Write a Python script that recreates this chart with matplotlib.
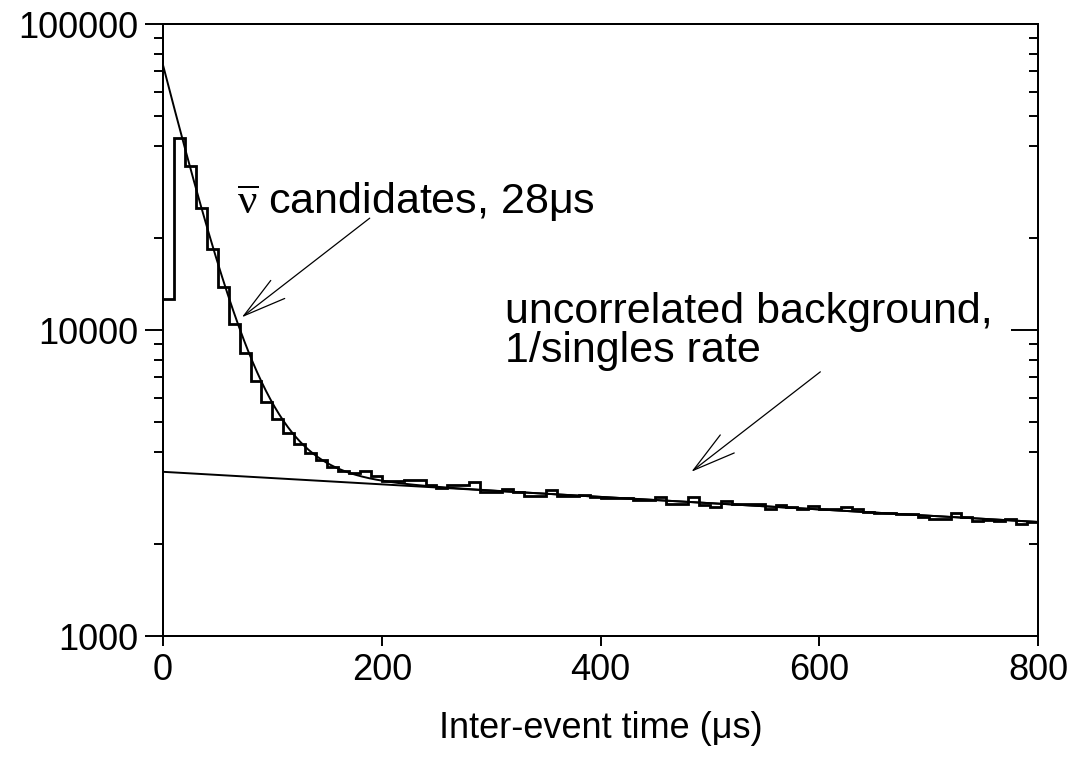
import numpy as np
import matplotlib.pyplot as plt
from matplotlib.patches import ArrowStyle
from matplotlib.ticker import FixedLocator, LogLocator, NullFormatter, FuncFormatter

plt.rcParams['font.family'] = ['Liberation Sans', 'DejaVu Sans']
plt.rcParams['mathtext.fontset'] = 'custom'
plt.rcParams['mathtext.rm'] = 'Liberation Serif'
plt.rcParams['mathtext.it'] = 'Liberation Serif:italic'

# histogram of inter-event times, 10 us bins from 0 to 800 us
bin_width = 10
counts = [12600, 42400, 34400, 25000, 18400, 13800, 10500, 8400, 6800, 5830,
          5100, 4600, 4240, 3970, 3760, 3570, 3470, 3420, 3470, 3330,
          3210, 3210, 3230, 3230, 3120, 3050, 3120, 3120, 3190, 2960,
          2960, 3020, 2960, 2870, 2870, 3000, 2870, 2870, 2900, 2850,
          2830, 2830, 2830, 2780, 2780, 2850, 2710, 2710, 2840, 2680,
          2630, 2760, 2690, 2690, 2690, 2610, 2680, 2630, 2600, 2650,
          2600, 2600, 2630, 2600, 2550, 2520, 2520, 2500, 2500, 2450,
          2420, 2410, 2520, 2450, 2380, 2390, 2380, 2410, 2320, 2360]
edges = np.arange(len(counts) + 1) * bin_width

# fit curve as drawn: candidates exponential + uncorrelated background
sig_amp, sig_tau = 70000, 30.0
bkg_amp, bkg_tau = 3440, 2120.0

x_ticks = [0, 200, 400, 600, 800]
y_ticks = [1000, 10000, 100000]

t = np.linspace(0, 800, 800)
bkg = bkg_amp * np.exp(-t / bkg_tau)
total = sig_amp * np.exp(-t / sig_tau) + bkg

fig = plt.figure(figsize=(10.88, 7.77), dpi=100)
ax = fig.add_axes([163/1088, 1 - 636/777, 875/1088, 612/777])

ax.stairs(counts, edges, baseline=None, color='black', lw=2.0)
ax.plot(t, total, color='black', lw=1.4)
ax.plot(t, bkg, color='black', lw=1.4)

ax.set_yscale('log')
ax.set_xlim(0, 800)
ax.set_ylim(1000, 100000)
ax.xaxis.set_major_locator(FixedLocator(x_ticks))
ax.yaxis.set_major_locator(FixedLocator(y_ticks))
ax.yaxis.set_major_formatter(FuncFormatter(lambda v, p: '%d' % v))
ax.yaxis.set_minor_locator(LogLocator(base=10, subs=[2, 4, 5, 6, 7, 8, 9]))
ax.yaxis.set_minor_formatter(NullFormatter())

for s in ax.spines.values():
    s.set_linewidth(1.4)
ax.tick_params(axis='both', which='both', labelsize=26, width=1.4, color='black')
ax.tick_params(axis='x', which='major', direction='out', length=7, pad=5)
ax.tick_params(axis='y', which='major', direction='out', length=13, pad=5)
ax.tick_params(axis='y', which='minor', direction='out', length=6.5)

# right axis ticks point inward
ax2 = ax.twinx()
ax2.set_yscale('log')
ax2.set_ylim(ax.get_ylim())
ax2.yaxis.set_major_locator(FixedLocator(y_ticks))
ax2.yaxis.set_minor_locator(LogLocator(base=10, subs=[2, 4, 5, 6, 7, 8, 9]))
ax2.yaxis.set_major_formatter(NullFormatter())
ax2.yaxis.set_minor_formatter(NullFormatter())
ax2.tick_params(axis='y', which='both', direction='in', width=1.4, labelright=False)
ax2.tick_params(axis='y', which='major', length=19.5)
ax2.tick_params(axis='y', which='minor', length=6.5)
for s in ax2.spines.values():
    s.set_linewidth(1.4)

ax.set_xlabel('Inter-event time (μs)', fontsize=26, labelpad=17)

head = ArrowStyle('->', head_length=3.1, head_width=0.82)
ax.text(67.7, 24170, r'$\overline{\mathrm{\nu}}$ candidates, 28μs', fontsize=31,
        ha='left', va='baseline')
ax.annotate('', xy=(72, 11000), xytext=(189, 23200),
            arrowprops=dict(arrowstyle=head, mutation_scale=10, color='black',
                            lw=0.9, shrinkA=0, shrinkB=0))

ax.text(313, 10540, 'uncorrelated background,', fontsize=31, ha='left', va='baseline')
ax.text(313, 7860, '1/singles rate', fontsize=31, ha='left', va='baseline')
ax.annotate('', xy=(483, 3440), xytext=(601, 7300),
            arrowprops=dict(arrowstyle=head, mutation_scale=10, color='black',
                            lw=0.9, shrinkA=0, shrinkB=0))

fig.savefig('out.png', dpi=100)
